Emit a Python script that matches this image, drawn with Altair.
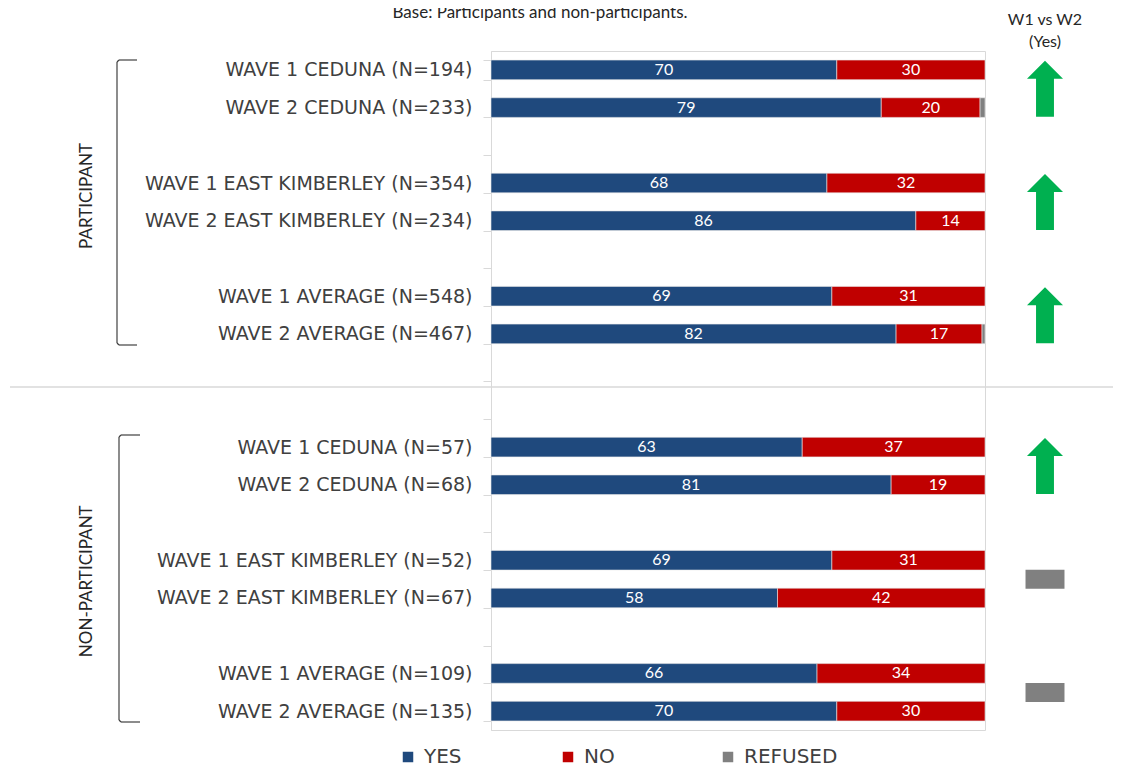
import altair as alt
import pandas as pd

# ---- data ----
labels = [
    "WAVE 1 CEDUNA (N=194)", "WAVE 2 CEDUNA (N=233)",
    "WAVE 1 EAST KIMBERLEY (N=354)", "WAVE 2 EAST KIMBERLEY (N=234)",
    "WAVE 1 AVERAGE (N=548)", "WAVE 2 AVERAGE (N=467)",
    "WAVE 1 CEDUNA (N=57)", "WAVE 2 CEDUNA (N=68)",
    "WAVE 1 EAST KIMBERLEY (N=52)", "WAVE 2 EAST KIMBERLEY (N=67)",
    "WAVE 1 AVERAGE (N=109)", "WAVE 2 AVERAGE (N=135)",
]
yes = [70, 79, 68, 86, 69, 82, 63, 81, 69, 58, 66, 70]
no = [30, 20, 32, 14, 31, 17.4, 37, 19, 31, 42, 34, 30]
refused = [0, 1, 0, 0, 0, 0.6, 0, 0, 0, 0, 0, 0]
categories = ["YES", "NO", "REFUSED"]
colors = ["#1F497D", "#C00000", "#808080"]

# W1 vs W2 (Yes) indicators, one per pair (placed between wave 1 and wave 2 rows)
pair_rows = [labels[0], labels[2], labels[4], labels[6], labels[8], labels[10]]
change = ["up", "up", "up", "up", "same", "same"]

groups = ["PARTICIPANT", "NON-PARTICIPANT"]
group_rows = [labels[2], labels[8]]
group_offsets = [13, 21]

title_text = "Base: Participants and non-participants."
header_text = ["W1 vs W2", "(Yes)"]

row_order = [labels[0], labels[1], "gap1", labels[2], labels[3], "gap2",
             labels[4], labels[5], "gap3", "gap4", labels[6], labels[7], "gap5",
             labels[8], labels[9], "gap6", labels[10], labels[11]]

# ---- tables ----
recs = []
for i, lab in enumerate(labels):
    start = 0
    for cat, vals in zip(categories, [yes, no, refused]):
        v = vals[i]
        if v > 0:
            recs.append(dict(row=lab, cat=cat, value=v, start=start, end=start + v))
            start += v
bars_df = pd.DataFrame(recs)
ind_df = pd.DataFrame({"row": pair_rows, "change": change})
one = pd.DataFrame({"a": [0]})

W, H = 494, 679

yscale = alt.Scale(domain=row_order, paddingInner=0.48, paddingOuter=0.24)
yaxis = alt.Axis(
    title=None,
    labelExpr="indexof(datum.label, 'gap') === 0 ? '' : datum.label",
    labelFont="DejaVu Sans", labelFontSize=19, labelColor="#404040",
    labelPadding=11, labelLimit=500,
    tickBand="extent", tickColor="#d9d9d9", tickSize=8,
    domainColor="#d9d9d9", grid=False,
)
Y = alt.Y("row:N", scale=yscale, axis=yaxis)
xscale = alt.Scale(domain=[0, 100], nice=False, zero=True)

bars = alt.Chart(bars_df).mark_bar(stroke="#e8e8e8", strokeWidth=0.6).encode(
    x=alt.X("start:Q", scale=xscale, axis=None),
    x2="end:Q",
    y=Y,
    color=alt.Color(
        "cat:N",
        scale=alt.Scale(domain=categories, range=colors),
        legend=alt.Legend(
            title=None, orient="none", legendX=-93, legendY=696,
            direction="horizontal", columns=3, gridAlign="all", columnPadding=40,
            symbolType="square", symbolSize=110, symbolStrokeWidth=0,
            labelFont="DejaVu Sans", labelFontSize=20, labelColor="#404040",
            labelOffset=6,
        ),
    ),
)

values = alt.Chart(bars_df).transform_filter(
    "datum.cat != 'REFUSED'"
).transform_calculate(
    mid="(datum.start + datum.end) / 2"
).mark_text(color="white", font="Lato", fontSize=16, baseline="middle", align="center").encode(
    x=alt.X("mid:Q", scale=xscale, axis=None),
    y=Y,
    text=alt.Text("value:Q", format=".0f"),
)

arrow_path = "M0,-1 L0.643,-0.357 L0.32,-0.357 L0.32,1 L-0.32,1 L-0.32,-0.357 L-0.643,-0.357 Z"
flat_path = "M-0.696,-0.34 L0.696,-0.34 L0.696,0.34 L-0.696,0.34 Z"

up = alt.Chart(ind_df).transform_filter("datum.change == 'up'").mark_point(
    filled=True, shape=arrow_path, size=3136, color="#00B050", opacity=1,
    strokeWidth=0, yOffset=19,
).encode(x=alt.value(554), y=Y)

same = alt.Chart(ind_df).transform_filter("datum.change == 'same'").mark_point(
    filled=True, shape=flat_path, size=3136, color="#808080", opacity=1,
    strokeWidth=0, yOffset=19,
).encode(x=alt.value(554), y=Y)

grp_layers = []
for g, r, off in zip(groups, group_rows, group_offsets):
    grp_layers.append(
        alt.Chart(pd.DataFrame({"row": [r], "g": [g]})).mark_text(
            angle=270, font="Lato", fontSize=17, color="#262626",
            align="center", baseline="middle", yOffset=off,
        ).encode(x=alt.value(-404), y=Y, text="g:N")
    )

title = alt.Chart(one).mark_text(
    font="Lato", fontSize=17, color="#262626", align="center", baseline="middle"
).encode(x=alt.value(49), y=alt.value(-38), text=alt.value(title_text))

header = alt.Chart(one).mark_text(
    font="Lato", fontSize=16, color="#262626", align="center", baseline="middle", lineHeight=22
).encode(x=alt.value(554), y=alt.value(-31), text=alt.value(header_text))

sep = alt.Chart(one).mark_rule(color="#d9d9d9", strokeWidth=1.5).encode(
    x=alt.value(-481), x2=alt.value(700), y=alt.value(336)
)


def bracket(xv, ytop, ybot, hook):
    base = alt.Chart(one).mark_rule(color="#404040", strokeWidth=1.2)
    return [
        base.encode(x=alt.value(xv), y=alt.value(ytop + 2), y2=alt.value(ybot - 2)),
        base.encode(x=alt.value(xv + 2), x2=alt.value(xv + hook), y=alt.value(ytop)),
        base.encode(x=alt.value(xv + 2), x2=alt.value(xv + hook), y=alt.value(ybot)),
        base.encode(x=alt.value(xv), x2=alt.value(xv + 2), y=alt.value(ytop + 2), y2=alt.value(ytop)),
        base.encode(x=alt.value(xv), x2=alt.value(xv + 2), y=alt.value(ybot - 2), y2=alt.value(ybot)),
    ]


layers = [sep, bars, values, up, same, title, header] + grp_layers
layers += bracket(-374, 9, 294, 20)
layers += bracket(-372, 384, 671, 21)

chart = alt.layer(*layers).properties(
    width=W, height=H,
    autosize=alt.AutoSizeParams(type="none"),
    padding={"left": 483, "top": 43, "right": 128, "bottom": 37},
).configure_view(stroke="#d9d9d9", strokeWidth=1)

chart.save("out.html", embed_options={"renderer": "svg", "actions": False})
